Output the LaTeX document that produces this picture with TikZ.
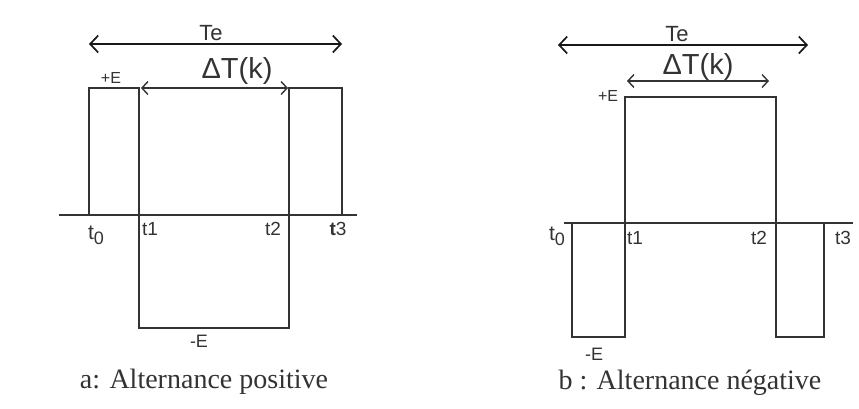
\documentclass[tikz,border=0pt]{standalone}
\usepackage{fontspec}
\setmainfont{Liberation Serif}
\setsansfont{Liberation Sans}
\usetikzlibrary{arrows.meta}
\definecolor{ink}{HTML}{333333}
\begin{document}
\begin{tikzpicture}[x=1pt,y=-1pt,
  wave/.style={draw=ink, line width=1.7pt, line join=miter},
  axisline/.style={draw=ink, line width=1.7pt},
  bigspan/.style={draw=black!90, line width=2.8pt,
    {Straight Barb[length=8pt,width=17pt,line width=1.7pt]}-{Straight Barb[length=8pt,width=17pt,line width=1.7pt]}},
  smallspan/.style={draw=ink, line width=1.8pt,
    {Straight Barb[length=6pt,width=13pt,line width=1.4pt]}-{Straight Barb[length=6pt,width=13pt,line width=1.4pt]}},
  lbl/.style={text=ink, inner sep=0pt, font={\sffamily\fontsize{19}{21}\selectfont}},
  spanlbl/.style={text=ink, inner sep=0pt, font={\sffamily\fontsize{22}{24}\selectfont}},
  dlbl/.style={text=ink, inner sep=0pt, font={\sffamily\fontsize{29}{31}\selectfont}},
  elbl/.style={text=ink, inner sep=0pt, font={\sffamily\fontsize{16}{18}\selectfont}},
  melbl/.style={text=ink, inner sep=0pt, font={\sffamily\fontsize{18}{20}\selectfont}},
  caption/.style={text=ink, inner sep=0pt, font={\rmfamily\fontsize{28}{30}\selectfont}}
]
\useasboundingbox[fill=white] (0,0) rectangle (859,408);
\newcommand{\tzero}{{\fontsize{21}{21}\selectfont t}\raisebox{-5pt}{\fontsize{18}{18}\selectfont 0}}

% ---------- panel a ----------
\coordinate (aTeL) at (89,44);
\coordinate (aTeR) at (342,44);
\coordinate (aDL) at (141,88);
\coordinate (aDR) at (288,88);
\coordinate (aAxL) at (59,215);
\coordinate (aAxR) at (357,215);
\coordinate (a0) at (89,215);
\coordinate (a1) at (89,88);
\coordinate (a2) at (139,88);
\coordinate (a3) at (139,328);
\coordinate (a4) at (289,328);
\coordinate (a5) at (289,88);
\coordinate (a6) at (342,88);
\coordinate (a7) at (342,215);

\draw[axisline] (aAxL) -- (aAxR);
\draw[wave] (a0) -- (a1) -- (a2) -- (a3) -- (a4) -- (a5) -- (a6) -- (a7);
\draw[bigspan] (aTeL) -- (aTeR);
\draw[smallspan] (aDL) -- (aDR);

\node[spanlbl] (aTe) at (211,33) {Te};
\node[dlbl] (aDT) at (237,71) {ΔT(k)};
\node[elbl] (aPE) at (111,78) {+E};
\node[melbl] (aME) at (199,341) {-E};
\node[lbl] (at0) at (96,235) {\tzero};
\node[lbl] (at1) at (150,229) {t1};
\node[lbl] (at2) at (273,229) {t2};
\node[lbl] (at3) at (338,229) {\textbf{t}3};
\node[caption] (acap) at (204,382) {a: Alternance positive};

% ---------- panel b ----------
\coordinate (bTeL) at (558,45);
\coordinate (bTeR) at (808,45);
\coordinate (bDL) at (627,81);
\coordinate (bDR) at (769,81);
\coordinate (bAxL) at (564,223);
\coordinate (bAxR) at (853,223);
\coordinate (b0) at (572,223);
\coordinate (b1) at (572,337);
\coordinate (b2) at (625,337);
\coordinate (b3) at (625,97);
\coordinate (b4) at (776,97);
\coordinate (b5) at (776,337);
\coordinate (b6) at (824,337);
\coordinate (b7) at (824,223);

\draw[axisline] (bAxL) -- (bAxR);
\draw[wave] (b0) -- (b1) -- (b2) -- (b3) -- (b4) -- (b5) -- (b6) -- (b7);
\draw[bigspan] (bTeL) -- (bTeR);
\draw[smallspan] (bDL) -- (bDR);

\node[spanlbl] (bTe) at (677,34) {Te};
\node[dlbl] (bDT) at (698,67) {ΔT(k)};
\node[elbl] (bPE) at (608,96) {+E};
\node[melbl] (bME) at (594,354) {-E};
\node[lbl] (bt0) at (557,236) {\tzero};
\node[lbl] (bt1) at (635,238) {t1};
\node[lbl] (bt2) at (759,238) {t2};
\node[lbl] (bt3) at (843,238) {t3};
\node[caption] (bcap) at (690,383) {b : Alternance négative};
\end{tikzpicture}
\end{document}
